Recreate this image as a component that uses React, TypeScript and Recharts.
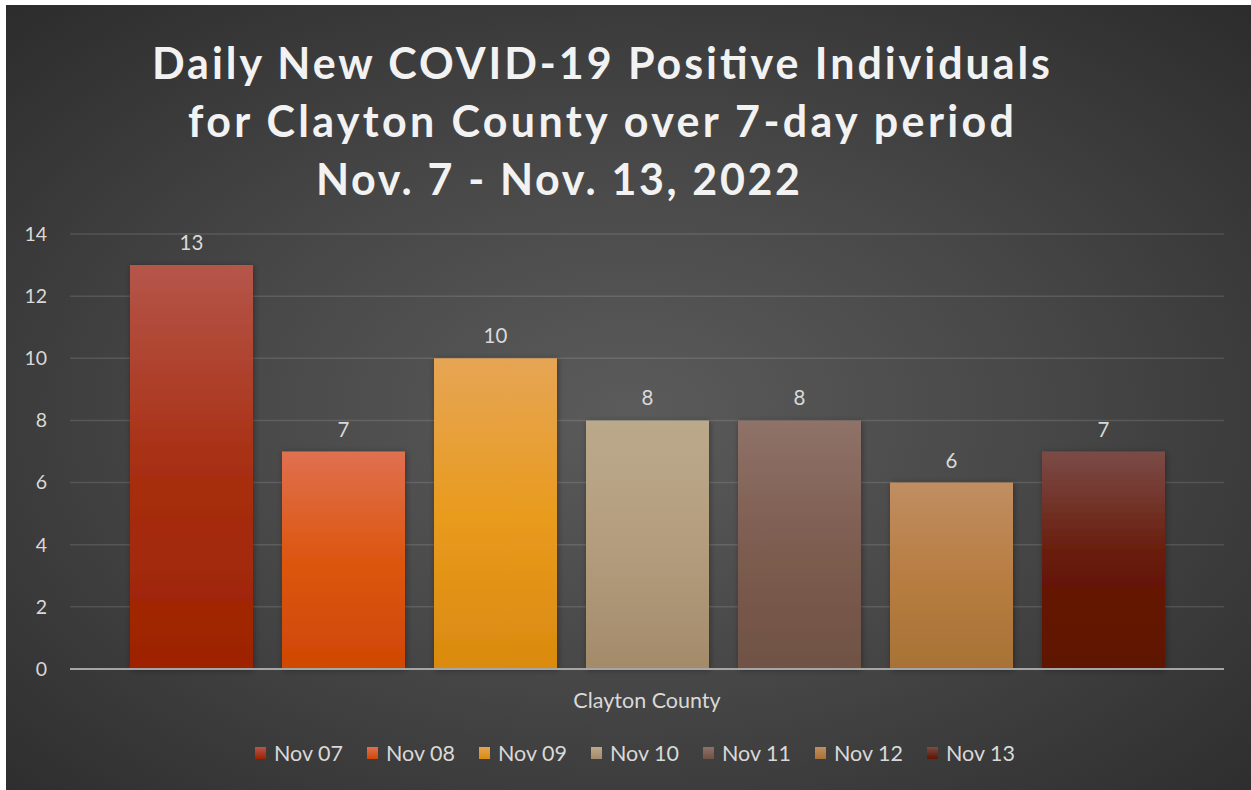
import { BarChart, Bar, XAxis, YAxis, CartesianGrid, LabelList } from "recharts";

const CATEGORIES = ["Clayton County"];
const SERIES_NAMES = ["Nov 07", "Nov 08", "Nov 09", "Nov 10", "Nov 11", "Nov 12", "Nov 13"];
const SERIES_VALUES = [13, 7, 10, 8, 8, 6, 7];
const Y_TICKS = [0, 2, 4, 6, 8, 10, 12, 14];
const TITLE_LINES = [
  "Daily New COVID-19 Positive Individuals",
  "for Clayton County over 7-day period",
  "Nov. 7 - Nov. 13, 2022",
];

// gradient stops per series: top, middle, bottom
const BAR_COLORS = [
  ["#b5564a", "#a82f12", "#9d2300"],
  ["#e07050", "#dc560f", "#cf4804"],
  ["#e6a555", "#e99b1e", "#da8a0e"],
  ["#bba98c", "#b49d7e", "#a38b6a"],
  ["#8f7268", "#7d5d50", "#6f5244"],
  ["#c08e62", "#b87d42", "#a87236"],
  ["#7b4b47", "#681a08", "#5e1400"],
];

const FONT = "Lato, 'Open Sans', sans-serif";
const TEXT = "#d9d9d9";

const keyOf = (i: number) => `s${i}`;

const data = CATEGORIES.map((name) => {
  const row: Record<string, string | number> = { name };
  SERIES_VALUES.forEach((v, i) => {
    row[keyOf(i)] = v;
  });
  return row;
});

// title line placement (page coords): left edge, width, baseline
const TITLE_POS = [
  { x: 152, w: 898, y: 79 },
  { x: 188, w: 826, y: 137 },
  { x: 316, w: 484, y: 195 },
];

export default function App() {
  return (
    <div
      style={{
        position: "absolute",
        left: 6,
        top: 5,
        width: 1245,
        height: 785,
        background:
          "radial-gradient(ellipse 75% 75% at 50% 52%, #5b5b5b 0%, #474747 45%, #2a2a2a 100%)",
        fontFamily: FONT,
        overflow: "hidden",
      }}
    >
      <svg width={1245} height={220} style={{ position: "absolute", left: 0, top: 0 }}>
        {TITLE_LINES.map((t, i) => (
          <text
            key={t}
            x={TITLE_POS[i].x - 6}
            y={TITLE_POS[i].y - 5}
            textLength={TITLE_POS[i].w}
            lengthAdjust="spacing"
            fill="#f2f2f2"
            fontFamily={FONT}
            fontWeight={700}
            fontSize={43}
          >
            {t}
          </text>
        ))}
      </svg>

      <BarChart
        width={1245}
        height={785}
        data={data}
        margin={{ top: 229, right: 27, left: 0, bottom: 81 }}
        barCategoryGap={60}
        barGap={29}
        style={{ position: "absolute", left: 0, top: 0 }}
      >
        <defs>
          {BAR_COLORS.map((c, i) => (
            <linearGradient key={i} id={`g${i}`} x1="0" y1="0" x2="0" y2="1">
              <stop offset="0%" stopColor={c[0]} />
              <stop offset="50%" stopColor={c[1]} />
              <stop offset="100%" stopColor={c[2]} />
            </linearGradient>
          ))}
          <filter id="shadow" x="-10%" y="-10%" width="120%" height="120%">
            <feDropShadow dx="1" dy="1" stdDeviation="3" floodColor="#000" floodOpacity="0.35" />
          </filter>
        </defs>
        <CartesianGrid vertical={false} stroke="rgba(255,255,255,0.12)" strokeWidth={1.5} />
        <XAxis
          dataKey="name"
          height={40}
          tickSize={0}
          tickMargin={24}
          axisLine={{ stroke: "#a6a6a6", strokeWidth: 2 }}
          tick={{ fill: TEXT, fontSize: 21.5, fontFamily: FONT }}
        />
        <YAxis
          width={64}
          domain={[0, 14]}
          ticks={Y_TICKS}
          axisLine={false}
          tickLine={false}
          tickSize={0}
          tickMargin={23}
          tick={{ fill: TEXT, fontSize: 19.5, fontFamily: FONT }}
        />
        {SERIES_NAMES.map((n, i) => (
          <Bar
            key={n}
            dataKey={keyOf(i)}
            name={n}
            fill={`url(#g${i})`}
            filter="url(#shadow)"
            isAnimationActive={false}
          >
            <LabelList
              dataKey={keyOf(i)}
              position="top"
              offset={15}
              fill={TEXT}
              fontSize={20.5}
              fontFamily={FONT}
            />
          </Bar>
        ))}
      </BarChart>

      {/* Legend */}
      <div
        style={{
          position: "absolute",
          left: 249,
          top: 735,
          display: "flex",
          alignItems: "center",
          color: TEXT,
          fontSize: 21.5,
          fontFamily: FONT,
        }}
      >
        {SERIES_NAMES.map((n, i) => (
          <div key={n} style={{ width: 112, display: "flex", alignItems: "center" }}>
            <span
              style={{
                display: "inline-block",
                width: 11,
                height: 12,
                marginRight: 8,
                background: `linear-gradient(${BAR_COLORS[i][0]}, ${BAR_COLORS[i][2]})`,
              }}
            />
            {n}
          </div>
        ))}
      </div>
    </div>
  );
}
